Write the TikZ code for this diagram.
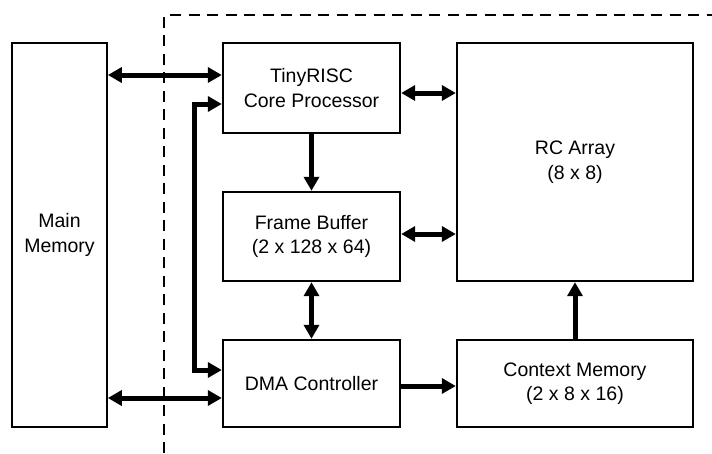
\documentclass[tikz,border=0pt]{standalone}
\usepackage{fontspec}
\setmainfont{Liberation Sans}
\usetikzlibrary{arrows.meta}
\tikzset{
  blk/.style={draw, line width=2.4pt, minimum width=#1, inner sep=0pt, align=center,
    font=\fontsize{19.5}{24.5}\selectfont, anchor=center},
  mmblk/.style={draw, line width=1.7pt, inner sep=0pt, align=center,
    font=\fontsize{19.5}{24.5}\selectfont},
  tip/.tip={Triangle[length=14pt,width=15pt]},
  uni/.style={line width=5pt, -tip, line join=miter},
  bi/.style={line width=5pt, tip-tip, line join=miter},
  bound/.style={line width=1.8pt, dash pattern=on 11pt off 7.5pt}
}
\begin{document}
\begin{tikzpicture}[x=1pt,y=-1pt]
\useasboundingbox (0,0) rectangle (712,453);
% dashed boundary
\coordinate (dA) at (164,453);
\coordinate (dB) at (164,15);
\coordinate (dC) at (712,15);
\draw[bound] (dA) -- (dB) -- (dC);
% blocks
\node[mmblk, minimum width=95pt, minimum height=384pt] (mm) at (59.5,235) {Main\\Memory};
\node[blk=177pt, minimum height=90pt] (risc) at (311.5,88) {TinyRISC\\Core Processor};
\node[blk=177pt, minimum height=89pt] (fb) at (311.5,236.5) {Frame Buffer\\(2 x 128 x 64)};
\node[blk=177pt, minimum height=87pt] (dma) at (311.5,383.5) {DMA Controller};
\node[blk=236pt, minimum height=238pt] (rc) at (575,162) {RC Array\\(8 x 8)};
\node[blk=236pt, minimum height=87pt] (cm) at (575,383.5) {Context Memory\\(2 x 8 x 16)};
% helper levels
\coordinate (y1) at (0,75);
\coordinate (y2) at (0,104);
\coordinate (y3) at (0,370);
\coordinate (y4) at (0,398);
\coordinate (y5) at (0,93);
\coordinate (y6) at (0,234);
\coordinate (y7) at (0,386);
\coordinate (xl) at (194.5,0);
\coordinate (xm) at (311.5,0);
% connectors
\draw[bi] (y1 -| mm.east) -- (y1 -| risc.west);
\draw[bi] (y4 -| mm.east) -- (y4 -| dma.west);
\draw[bi] (y2 -| risc.west) -- (y2 -| xl) -- (y3 -| xl) -- (y3 -| dma.west);
\draw[uni] (risc.south) -- (fb.north);
\draw[bi] (fb.south) -- (dma.north);
\draw[bi] (y5 -| risc.east) -- (y5 -| rc.west);
\draw[bi] (y6 -| fb.east) -- (y6 -| rc.west);
\draw[uni] (y7 -| dma.east) -- (y7 -| cm.west);
\draw[uni] (cm.north) -- (rc.south);
\end{tikzpicture}
\end{document}
